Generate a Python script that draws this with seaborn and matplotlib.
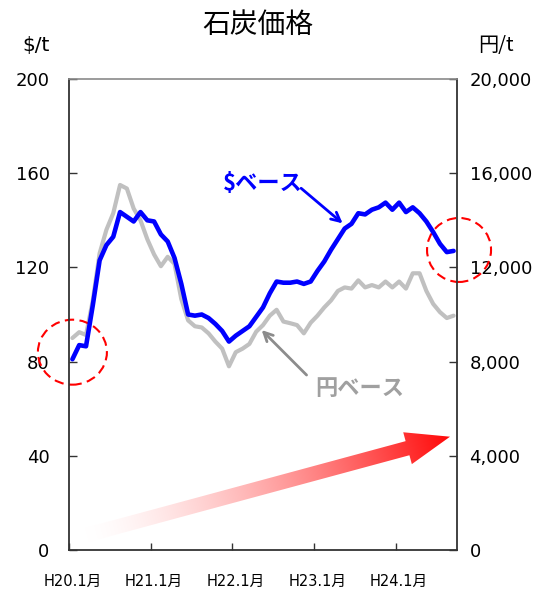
import numpy as np
import pandas as pd
import matplotlib
matplotlib.use("Agg")
import matplotlib.pyplot as plt
import seaborn as sns
from matplotlib.patches import Ellipse, Polygon
from matplotlib.transforms import ScaledTranslation
from matplotlib.ticker import FuncFormatter

# Monthly coal price, H20.1 (Jan 2008) .. H24.9 (Sep 2012)
usd_per_t = [81, 87, 86.5, 104, 123, 129.5, 133, 143.5, 141.5, 139.5, 143.5, 140,
             139.5, 134, 131, 124, 113, 100, 99.5, 100, 98.5, 96, 93, 88.5,
             91, 93, 95, 99, 103, 109, 114, 113.5, 113.5, 114, 113, 114,
             118.5, 122.5, 127.5, 132, 136.5, 138.5, 143, 142.5, 144.5, 145.5, 147.5, 144.5,
             147.5, 143.5, 145.5, 143, 139.5, 135, 130, 126.5, 127]
yen_per_t = [9000, 9250, 9130, 10600, 12600, 13600, 14300, 15500, 15350, 14500, 14000, 13200,
             12550, 12050, 12450, 12150, 10650, 9750, 9500, 9450, 9200, 8850, 8550, 7800,
             8400, 8550, 8750, 9270, 9550, 9950, 10200, 9700, 9630, 9550, 9200, 9650,
             9950, 10300, 10600, 11000, 11150, 11100, 11450, 11150, 11250, 11150, 11400, 11150,
             11400, 11100, 11750, 11750, 11000, 10450, 10100, 9850, 9950]
year_labels = ["H20.1月", "H21.1月", "H22.1月", "H23.1月", "H24.1月"]
usd_ticks = [0, 40, 80, 120, 160, 200]
yen_ticks = [0, 4000, 8000, 12000, 16000, 20000]

n = len(usd_per_t)
df = pd.DataFrame({"month": np.arange(n), "usd": usd_per_t, "yen": yen_per_t})

sns.set_theme(style="white")
plt.rcParams["font.family"] = ["DejaVu Sans", "Noto Sans CJK JP"]
CJK = ["Noto Sans CJK JP", "DejaVu Sans"]

W, H = 544, 592
fig = plt.figure(figsize=(W / 100, H / 100), dpi=100)
ax = fig.add_axes([69 / W, 1 - 550 / H, (457 - 69) / W, (550 - 79) / H])
ax2 = ax.twinx()

sns.lineplot(data=df, x="month", y="yen", ax=ax2, color="#C0C0C0", linewidth=3.0,
             solid_joinstyle="round")
sns.lineplot(data=df, x="month", y="usd", ax=ax, color="#0000FF", linewidth=3.3,
             solid_joinstyle="round")
ax.set_zorder(ax2.get_zorder() + 1)
ax.patch.set_visible(False)

ax.set_xlim(-0.5, n - 0.5)
ax.set_ylim(0, 200)
ax2.set_ylim(0, 20000)
ax.set_xlabel("")
ax.set_ylabel("")
ax2.set_ylabel("")

ax.set_yticks(usd_ticks)
ax2.set_yticks(yen_ticks)
ax2.yaxis.set_major_formatter(FuncFormatter(lambda v, p: f"{int(v):,}"))
ax.set_xticks(np.arange(0, n, 12))
ax.set_xticklabels(year_labels)
ax.set_xticks(np.arange(-0.5, n - 1, 12), minor=True)

ax.tick_params(axis="x", which="major", bottom=True, length=0, pad=17, labelsize=10.5,
               labelcolor="black")
ax.tick_params(axis="x", which="minor", bottom=True, direction="in", length=5,
               width=1, color="#333333")
ax.tick_params(axis="y", left=True, direction="in", length=6, width=1, color="#333333",
               pad=14, labelsize=13, labelcolor="black")
ax2.tick_params(axis="y", right=True, direction="in", length=6, width=1, color="#333333",
                pad=9, labelsize=13, labelcolor="black")

for s in ax2.spines.values():
    s.set_visible(False)
for name in ("left", "right", "bottom"):
    ax.spines[name].set_color("#333333")
    ax.spines[name].set_linewidth(1.3)
ax.spines["top"].set_color("#8a8a8a")
ax.spines["top"].set_linewidth(1.2)

# Titles and unit labels
fig.text(258 / W, 1 - 25 / H, "石炭価格", ha="center", va="center", fontsize=20,
         family=CJK, color="black")
fig.text(36 / W, 1 - 45 / H, "$/t", ha="center", va="center", fontsize=14.5, color="black")
fig.text(496 / W, 1 - 45 / H, "円/t", ha="center", va="center", fontsize=14.5,
         family=CJK, color="black")

# Series call-outs
ax.text(28.0, 155.7, "$ベース", ha="center", va="center", fontsize=16,
        fontweight="bold", color="#0000FF", family=CJK)
ax.annotate("", xy=(39.7, 138.7), xytext=(33.6, 153.6),
            arrowprops=dict(arrowstyle="->", color="#0000FF", lw=2,
                            mutation_scale=16, shrinkA=0, shrinkB=0))
ax.text(42.2, 68.4, "円ベース", ha="center", va="center", fontsize=16,
        fontweight="bold", color="#A0A0A0", family=CJK)
ax.annotate("", xy=(27.8, 93.4), xytext=(34.4, 74.3),
            arrowprops=dict(arrowstyle="->", color="#8C8C8C", lw=2,
                            mutation_scale=16, shrinkA=0, shrinkB=0))

# Dashed circles around the start and end of the dollar series
for cx, cy, w, h in [(0, 84, 0.69, 0.65), (n - 1 + 0.8, 127.4, 0.64, 0.64)]:
    tr = fig.dpi_scale_trans + ScaledTranslation(cx, cy, ax.transData)
    ax.add_patch(Ellipse((0, 0), w, h, transform=tr, fill=False, edgecolor="red",
                         linewidth=1.5, linestyle=(0, (4.5, 2.6)), clip_on=False))

# Gradient trend arrow (white -> red)
ov = fig.add_axes([0, 0, 1, 1])
ov.set_xlim(0, W)
ov.set_ylim(H, 0)
ov.axis("off")
ov.set_zorder(ax.get_zorder() + 1)

tail = np.array([86.7, 535.0])
tip = np.array([450.0, 436.7])
vec = tip - tail
length = np.hypot(*vec)
u = vec / length
nrm = np.array([-u[1], u[0]])
shaft_hw, head_hw, head_len = 7.3, 16.5, 44.0
base = tip - head_len * u
pts = [tail + shaft_hw * nrm, base + shaft_hw * nrm, base + head_hw * nrm, tip,
       base - head_hw * nrm, base - shaft_hw * nrm, tail - shaft_hw * nrm]
poly = Polygon(pts, closed=True, transform=ov.transData, facecolor="none", edgecolor="none")
ov.add_patch(poly)

yy, xx = np.mgrid[0:H, 0:W] + 0.5
t = np.clip(((xx - tail[0]) * u[0] + (yy - tail[1]) * u[1]) / length, 0, 1)
g = 1 - 0.97 * t ** 1.5
rgb = np.dstack([np.ones_like(g), g, g])
im = ov.imshow(rgb, extent=(0, W, H, 0), interpolation="bilinear", aspect="auto")
im.set_clip_path(poly)
ov.set_xlim(0, W)
ov.set_ylim(H, 0)

fig.savefig("out.png", dpi=100)
